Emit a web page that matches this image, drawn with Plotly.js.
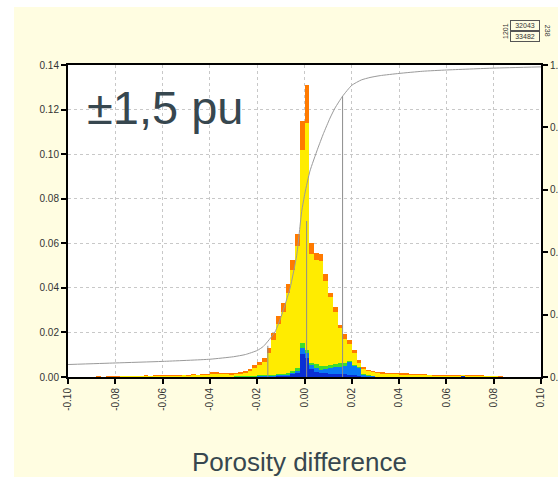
<!DOCTYPE html>
<html>
<head>
<meta charset="utf-8">
<script src="https://cdn.plot.ly/plotly-3.0.1.min.js"></script>
<style>
  html, body { margin: 0; padding: 0; background: #ffffff; width: 558px; height: 477px; overflow: hidden; }
  #chart { position: absolute; left: 14px; top: 7px; width: 544px; height: 470px; }
</style>
</head>
<body>
<div id="chart"></div>
<script>
// ---- Data ----
const binStart = -0.1;   // left edge of first bin
const binWidth = 0.002;  // histogram bin width
const nBins = 100;

// stacked segment heights per bin (fraction), bottom to top
const blueDark = [
  0,0,0,0,0, 0,0,0,0,0, 0,0,0,0,0, 0,0,0,0,0, 0,0,0,0,0, 0,0,0,0,0, 0,0,0,0,0,
  .0001,.0001,.0001,.0001,.0001,.0002,.0002,.0002,.0002,.0003,.0003,.0004,.0012,.0017,.0105,.0085,.0035,.0022,.0016,.0016,.0015,.0014,.0013,.0012,.0010,.0008,.0005,.0002,.0001,.0001,
  0,0,0,0,0, 0,0,0,0,0, 0,0,0,0,0, 0,0,.0002,.0003,0, 0,0,0,0,0, 0,0,0,0,0, 0,0,0,0,0
];
const blueLight = [
  0,0,0,0,0, 0,0,0,0,0, 0,0,0,0,0, 0,0,0,0,0, 0,0,0,0,0, 0,0,0,0,0, 0,0,0,0,0,
  .0001,.0001,.0001,.0001,.0001,.0002,.0002,.0002,.0002,.0004,.0004,.0004,.0008,.0010,.0023,.0021,.0019,.0017,.0014,.0019,.0025,.0030,.0033,.0038,.0056,.0042,.0035,.0008,.0004,.0002,
  0,0,0,0,0, 0,0,0,0,0, 0,0,0,0,0, 0,0,0,0,0, 0,0,0,0,0, 0,0,0,0,0, 0,0,0,0,0
];
const green = [
  0,0,0,0,0, 0,0,0,0,0, 0,0,0,0,0, 0,0,0,0,0, 0,0,0,0,0, 0,0,0,0,0, 0,0,0,0,0,
  .0002,.0002,.0002,.0002,.0002,.0004,.0004,.0004,.0004,.0008,.0008,.0009,.0007,.0012,.0026,.0015,.0010,.0018,.0021,.0015,.0015,.0014,.0015,.0012,.0004,.0006,.0006,.0005,.0003,.0002,
  0,0,0,0,0, 0,0,0,0,0, 0,0,0,0,0, 0,0,0,0,0, 0,0,0,0,0, 0,0,0,0,0, 0,0,0,0,0
];
const yellow = [
  .0001,.0001,.0001,.0001,.0001, .0001,.0002,.0001,.0002,.0002, .0002,.0003,.0003,.0004,.0003, .0003,.0004,.0004,.0005,.0004, .0005,.0005,.0006,.0005,.0007, .0006,.0007,.0007,.0008,.0009, .0015,.0013,.0012,.0012,.0011,
  .0008,.0011,.0015,.0023,.0038,.0046,.0061,.0098,.0158,.0225,.0278,.0358,.0452,.0547,.0866,.1019,.0490,.0467,.0468,.0383,.0305,.0235,.0157,.0107,.0078,.0052,.0019,.0022,.0017,.0016,
  .0016,.0015,.0013,.0013,.0012, .0010,.0010,.0009,.0009,.0008, .0008,.0007,.0006,.0006,.0006, .0005,.0005,.0003,.0004,.0006, .0005,.0005,.0004,.0004,.0004, .0003,.0002,.0001,.0001,.0001, .0001,.0001,.0001,.0001,.0001
];
const orange = [
  0,0,.0001,0,.0001, .0001,.0001,.0001,.0002,.0001, .0002,.0002,.0001,.0002,.0002, .0003,.0003,.0002,.0003,.0003, .0004,.0003,.0004,.0004,.0004, .0004,.0005,.0004,.0005,.0005, .0009,.0008,.0007,.0006,.0006,
  .0006,.0007,.0009,.0010,.0012,.0015,.0018,.0022,.0030,.0033,.0037,.0042,.0048,.0054,.0130,.0170,.0049,.0031,.0031,.0027,.0018,.0019,.0015,.0024,.0018,.0012,.0010,.0008,.0007,.0007,
  .0008,.0007,.0007,.0006,.0006, .0007,.0008,.0006,.0005,.0005, .0004,.0004,.0004,.0005,.0003, .0003,.0003,.0002,.0003,.0005, .0004,.0003,.0003,.0002,.0002, .0002,.0002,.0001,.0001,0, 0,0,0,0,0
];

// cumulative curve (right axis, 0..1)
const cumX = [-0.100,-0.080,-0.060,-0.040,-0.030,-0.025,-0.020,-0.0174,-0.0125,-0.0096,-0.0061,-0.0033,-0.0012,0.0002,0.0023,0.0055,0.0080,0.0108,0.0129,0.0161,0.0200,0.0240,0.0277,0.0320,0.040,0.050,0.060,0.080,0.100];
const cumY = [0.040,0.045,0.050,0.057,0.065,0.072,0.085,0.098,0.144,0.200,0.285,0.390,0.530,0.590,0.660,0.730,0.780,0.830,0.862,0.900,0.935,0.952,0.960,0.966,0.973,0.980,0.984,0.990,0.994];

// percentile markers (P10, P50, P90)
const pctX = [-0.0155, 0.0009, 0.0161];
const pctLevel = [0.10, 0.50, 0.90];

// tick labels
const xTickVals = [-0.10,-0.08,-0.06,-0.04,-0.02,0.00,0.02,0.04,0.06,0.08,0.10];
const xTickText = ["-0.10","-0.08","-0.06","-0.04","-0.02","0.00","0.02","0.04","0.06","0.08","0.10"];
const yTickVals = [0,0.02,0.04,0.06,0.08,0.10,0.12,0.14];
const yTickText = ["0.00","0.02","0.04","0.06","0.08","0.10","0.12","0.14"];
const y2TickVals = [0,0.2,0.4,0.6,0.8,1.0];
const y2TickText = ["0.", "0.", "0.", "0.", "0.", "1."];   // visible part of the right-axis labels

// ---- Build traces ----
const centers = [];
for (let k = 0; k < nBins; k++) centers.push(+(binStart + binWidth * (k + 0.5)).toFixed(4));

function barTrace(name, y, color) {
  return { type: 'bar', name: name, x: centers, y: y, width: binWidth,
           marker: { color: color, line: { width: 0 } }, hoverinfo: 'skip' };
}
const traces = [
  barTrace('blueDark', blueDark, '#0a2fd6'),
  barTrace('blueLight', blueLight, '#0a78f5'),
  barTrace('green', green, '#3ddc2e'),
  barTrace('yellow', yellow, '#ffec00'),
  barTrace('orange', orange, '#ff7a00'),
  { type: 'scatter', mode: 'lines', x: cumX, y: cumY, yaxis: 'y2',
    line: { color: '#9a9a9a', width: 1, shape: 'spline', smoothing: 0.5 }, hoverinfo: 'skip' }
];
for (let i = 0; i < pctX.length; i++) {
  traces.push({ type: 'scatter', mode: 'lines', x: [pctX[i], pctX[i]], y: [0, pctLevel[i]], yaxis: 'y2',
                line: { color: '#8c8c8c', width: 1 }, hoverinfo: 'skip' });
}

const font = 'Arial, "Liberation Sans", sans-serif';
const layout = {
  width: 544, height: 470,
  margin: { l: 54, r: 17, t: 57.5, b: 100 },
  paper_bgcolor: '#fffde1',
  plot_bgcolor: '#ffffff',
  showlegend: false,
  barmode: 'stack',
  bargap: 0,
  font: { family: font, size: 10, color: '#333333' },
  xaxis: {
    range: [-0.1, 0.1], tickmode: 'array', tickvals: xTickVals, ticktext: xTickText,
    tickangle: -90, ticks: 'outside', ticklen: 5, tickwidth: 2, tickcolor: '#000',
    showline: true, linecolor: '#000', linewidth: 2, mirror: true,
    showgrid: true, gridcolor: '#c8c8c8', griddash: 'dot', gridwidth: 1,
    zeroline: false, tickfont: { family: font, size: 10, color: '#333' }
  },
  yaxis: {
    range: [0, 0.14], tickmode: 'array', tickvals: yTickVals, ticktext: yTickText,
    ticks: 'outside', ticklen: 5, tickwidth: 2, tickcolor: '#000',
    showline: true, linecolor: '#000', linewidth: 2, mirror: true,
    showgrid: true, gridcolor: '#c8c8c8', griddash: 'dot', gridwidth: 1,
    zeroline: false, tickfont: { family: font, size: 10, color: '#333' }
  },
  yaxis2: {
    range: [0, 1], overlaying: 'y', side: 'right', tickmode: 'array',
    tickvals: y2TickVals, ticktext: y2TickText,
    ticks: 'outside', ticklen: 5, tickwidth: 2, tickcolor: '#000',
    showline: true, linecolor: '#000', linewidth: 2, showgrid: false, zeroline: false,
    tickfont: { family: font, size: 10, color: '#333' }
  },
  annotations: [
    { text: '±1,5 pu', xref: 'paper', yref: 'paper', x: 0.035, y: 0.865, xanchor: 'left', yanchor: 'middle',
      showarrow: false, font: { family: font, size: 47, color: '#37474f' } },
    { text: 'Porosity difference', xref: 'paper', yref: 'paper', x: 0.49, y: -0.272, xanchor: 'center', yanchor: 'middle',
      showarrow: false, font: { family: font, size: 26, color: '#37474f' } },
    { text: '32043', xref: 'paper', yref: 'paper', x: 0.966, y: 1.1256, xanchor: 'center', yanchor: 'middle',
      showarrow: false, width: 28, height: 9, borderwidth: 1, bordercolor: '#555', borderpad: 0,
      font: { family: font, size: 7, color: '#333' } },
    { text: '33482', xref: 'paper', yref: 'paper', x: 0.966, y: 1.092, xanchor: 'center', yanchor: 'middle',
      showarrow: false, width: 28, height: 9, borderwidth: 1, bordercolor: '#555', borderpad: 0,
      font: { family: font, size: 7, color: '#333' } },
    { text: '1201', xref: 'paper', yref: 'paper', x: 0.926, y: 1.109, xanchor: 'center', yanchor: 'middle',
      showarrow: false, textangle: -90, font: { family: font, size: 7, color: '#333' } },
    { text: '238', xref: 'paper', yref: 'paper', x: 1.013, y: 1.109, xanchor: 'center', yanchor: 'middle',
      showarrow: false, textangle: 90, font: { family: font, size: 7, color: '#333' } }
  ]
};

Plotly.newPlot('chart', traces, layout, { staticPlot: true, displayModeBar: false });
</script>
</body>
</html>
